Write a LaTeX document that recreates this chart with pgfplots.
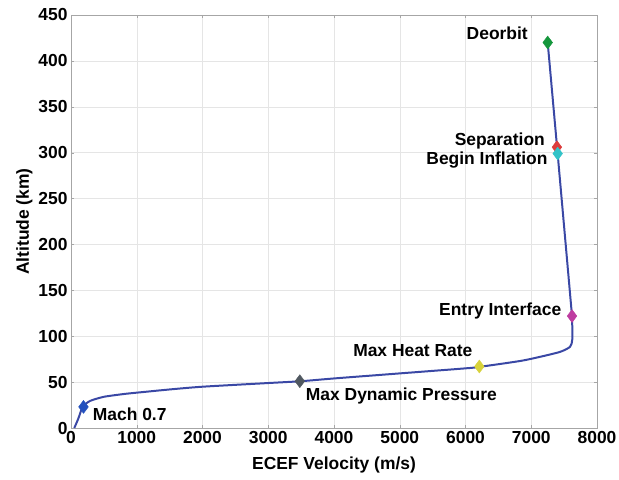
\documentclass[border=0pt]{standalone}
\usepackage{pgfplots}
\pgfplotsset{compat=1.18}
\usepackage{fontspec}
\setmainfont{Liberation Sans}
\setsansfont{Liberation Sans}
\definecolor{trajblue}{RGB}{58,72,165}
\definecolor{mkgreen}{RGB}{20,150,60}
\definecolor{mkred}{RGB}{220,60,60}
\definecolor{mkcyan}{RGB}{50,195,200}
\definecolor{mkmagenta}{RGB}{190,60,160}
\definecolor{mkyellow}{RGB}{215,210,60}
\definecolor{mkgray}{RGB}{80,88,96}
\definecolor{mkblue}{RGB}{35,80,190}
\begin{document}
\begin{tikzpicture}
\begin{axis}[
  scale only axis,
  width=526bp, height=413bp,
  xmin=0, xmax=8000, ymin=0, ymax=450,
  xtick={0,1000,...,8000}, ytick={0,50,...,450},
  scaled x ticks=false,
  /pgf/number format/1000 sep={},
  /pgf/number format/assume math mode=true,
  tick label style={font=\fontsize{17.5}{19}\selectfont\bfseries},
  label style={font=\fontsize{17.5}{19}\selectfont\bfseries},
  xlabel={ECEF Velocity (m/s)},
  ylabel={Altitude (km)},
  xlabel style={yshift=-6bp},
  ylabel style={yshift=-1bp},
  grid=major,
  major grid style={gray!20},
  axis line style={gray!70},
  tick align=inside,
  major tick length=3bp,
  tick style={gray!70},
  clip=false,
]
% trajectory, lower part
\addplot[trajblue, line width=2pt, smooth, tension=0.4] coordinates {
(50,0)(110,10)(178,23)(290,29.5)(500,34)(800,37)(1000,38.5)(1500,42)
(2000,45)(3000,49)(3500,51)(4000,54)(5000,59.5)(6000,65)(6200,66.5)
(6830,73)(7130,77.5)(7440,83)(7590,88.5)(7625,97)(7620,122)};
% trajectory, upper part
\addplot[trajblue, line width=2pt] coordinates {
(7620,122)(7400,300)(7250,420)};
% events
\addplot[only marks, mark=diamond*, mark size=6.5pt, mkgreen] coordinates {(7250,420)};
\addplot[only marks, mark=diamond*, mark size=6.5pt, mkred] coordinates {(7390,306)};
\addplot[only marks, mark=diamond*, mark size=6.5pt, mkcyan] coordinates {(7402,299)};
\addplot[only marks, mark=diamond*, mark size=6.5pt, mkmagenta] coordinates {(7620,122)};
\addplot[only marks, mark=diamond*, mark size=6.5pt, mkyellow] coordinates {(6210,67)};
\addplot[only marks, mark=diamond*, mark size=6.5pt, mkgray] coordinates {(3480,51)};
\addplot[only marks, mark=diamond*, mark size=6.5pt, mkblue] coordinates {(190,23)};
\begin{scope}[every node/.style={font=\fontsize{17.5}{19}\selectfont\bfseries, inner sep=0pt}]
\node[anchor=east] at (axis cs:6950,430) {Deorbit};
\node[anchor=east] at (axis cs:7210,313) {Separation};
\node[anchor=east] at (axis cs:7250,292) {Begin Inflation};
\node[anchor=east] at (axis cs:7460,127) {Entry Interface};
\node[anchor=west] at (axis cs:4290,84) {Max Heat Rate};
\node[anchor=west] at (axis cs:3570,35) {Max Dynamic Pressure};
\node[anchor=west] at (axis cs:330,15) {Mach 0.7};
\end{scope}
\end{axis}
\pgfresetboundingbox
\path (current axis.south west)+(-71bp,-51bp) rectangle ([shift={(22bp,15bp)}]current axis.north east);
\end{tikzpicture}
\end{document}
